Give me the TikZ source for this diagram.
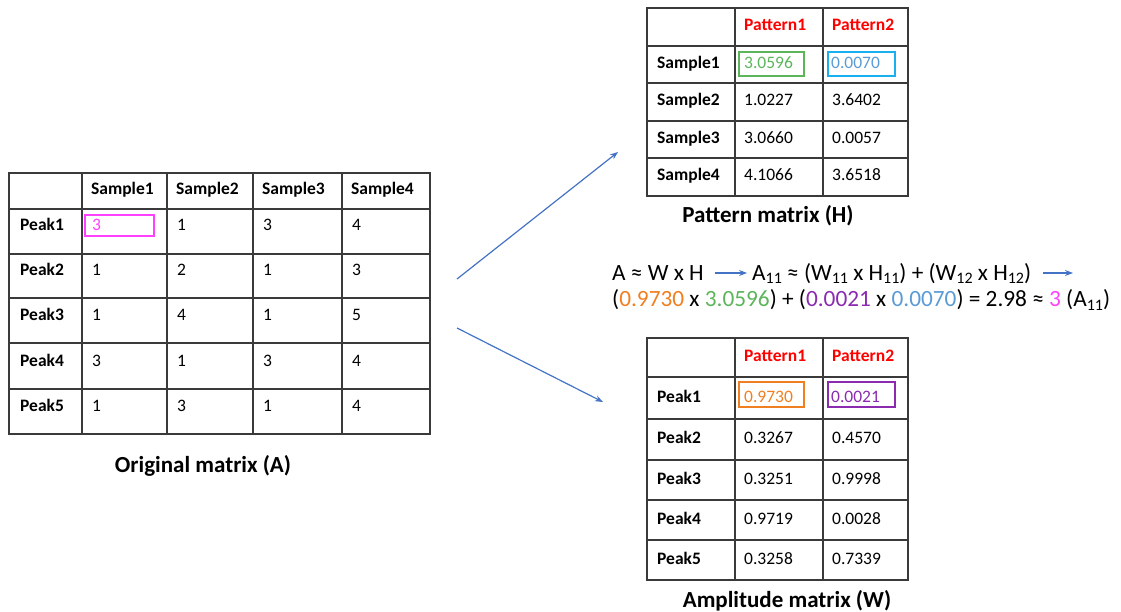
\documentclass[tikz,border=0pt]{standalone}
\usepackage{fontspec}
\setmainfont{Carlito}
\usetikzlibrary{arrows.meta}
\definecolor{arrowblue}{HTML}{4472C4}
\definecolor{gridc}{HTML}{3A3A3A}
\definecolor{pinkc}{HTML}{FF40FF}
\definecolor{greenc}{HTML}{5DB55B}
\definecolor{bluebox}{HTML}{1AB0F0}
\definecolor{bluetext}{HTML}{5B9BD5}
\definecolor{orangec}{HTML}{F07F22}
\definecolor{purplec}{HTML}{8A2BB0}
\definecolor{redc}{HTML}{FF0000}
\newcommand{\lsub}[1]{\raisebox{-0.35ex}{\fontsize{16}{16}\selectfont #1}}
\begin{document}
\begin{tikzpicture}[x=1pt,y=-1pt,
  grid/.style={draw=gridc,line width=1.4pt},
  hd/.style={anchor=base west,inner sep=0pt,font=\fontsize{17.5}{20}\selectfont\bfseries},
  val/.style={anchor=base west,inner sep=0pt,font=\fontsize{17.5}{20}\selectfont},
  ttl/.style={anchor=base,inner sep=0pt,font=\fontsize{23}{26}\selectfont\bfseries},
  eq/.style={anchor=base west,inner sep=0pt,font=\fontsize{23.3}{26}\selectfont},
  hlbox/.style={line width=1.2pt},
  arr/.style={draw=arrowblue,line width=1.2pt,-{Stealth[length=8pt,width=6pt]}}]
\useasboundingbox (0,0) rectangle (1121,612);
% ---------- Table A ----------
\foreach \x in {82,167,253,342} \draw[grid] (\x,173) -- (\x,434);
\foreach \y in {209,254,298,343,389} \draw[grid] (9,\y) -- (430,\y);
\draw[grid] (9,173) rectangle (430,434);
\foreach \c/\x in {1/91,2/176,3/262,4/351}
  \node[hd] (a-h-\c) at (\x,195) {Sample\c};
\foreach \r/\y/\va/\vb/\vc/\vd in {1/231/3/1/3/4,2/276/1/2/1/3,3/320/1/4/1/5,4/366/3/1/3/4,5/411/1/3/1/4}{
  \node[hd] (a-\r-0) at (20,\y) {Peak\r};
  \ifnum\r=1
    \node[val,text=pinkc] (a-\r-1) at (92,\y) {\va};
  \else
    \node[val] (a-\r-1) at (92,\y) {\va};
  \fi
  \node[val] (a-\r-2) at (177,\y) {\vb};
  \node[val] (a-\r-3) at (263,\y) {\vc};
  \node[val] (a-\r-4) at (352,\y) {\vd};
}
\draw[hlbox,draw=pinkc] (85,215) rectangle (154,236);
\node[ttl] (ta) at (203,472) {Original matrix (A)};
% ---------- Table H ----------
\foreach \x in {735,823} \draw[grid] (\x,8) -- (\x,196);
\foreach \y in {46,83,121,158} \draw[grid] (647,\y) -- (908,\y);
\draw[grid] (647,8) rectangle (908,196);
\node[hd,text=redc] (h-h-1) at (744,31) {Pattern1};
\node[hd,text=redc] (h-h-2) at (832,31) {Pattern2};
\foreach \r/\y/\va/\vb in {1/68.5/3.0596/0.0070,2/106/1.0227/3.6402,3/143.5/3.0660/0.0057,4/181/4.1066/3.6518}{
  \node[hd] (h-\r-0) at (657,\y) {Sample\r};
  \ifnum\r=1
    \node[val,text=greenc] (h-\r-1) at (744,\y) {\va};
    \node[val,text=bluetext] (h-\r-2) at (831,\y) {\vb};
  \else
    \node[val] (h-\r-1) at (744,\y) {\va};
    \node[val] (h-\r-2) at (832,\y) {\vb};
  \fi
}
\draw[hlbox,draw=greenc] (739,52) rectangle (804,76);
\draw[hlbox,draw=bluebox] (828,52) rectangle (895,76);
\node[ttl] (th) at (768,223) {Pattern matrix (H)};
% ---------- Table W ----------
\foreach \x in {735,823} \draw[grid] (\x,338) -- (\x,580);
\foreach \y in {377,419,460,500,540} \draw[grid] (647,\y) -- (908,\y);
\draw[grid] (647,338) rectangle (908,580);
\node[hd,text=redc] (w-h-1) at (744,361.5) {Pattern1};
\node[hd,text=redc] (w-h-2) at (832,361.5) {Pattern2};
\foreach \r/\y/\va/\vb in {1/402/0.9730/0.0021,2/443.5/0.3267/0.4570,3/484/0.3251/0.9998,4/524/0.9719/0.0028,5/564/0.3258/0.7339}{
  \node[hd] (w-\r-0) at (657,\y) {Peak\r};
  \ifnum\r=1
    \node[val,text=orangec] (w-\r-1) at (744,\y) {\va};
    \node[val,text=purplec] (w-\r-2) at (831,\y) {\vb};
  \else
    \node[val] (w-\r-1) at (744,\y) {\va};
    \node[val] (w-\r-2) at (832,\y) {\vb};
  \fi
}
\draw[hlbox,draw=orangec] (739,382) rectangle (804,407);
\draw[hlbox,draw=purplec] (828,382) rectangle (895,407);
\node[ttl] (tw) at (787,607) {Amplitude matrix (W)};
% ---------- Main arrows ----------
\coordinate (up-s) at (457,279);
\coordinate (up-e) at (618,152);
\coordinate (dn-s) at (457,328);
\coordinate (dn-e) at (603,402);
\draw[arr] (up-s) -- (up-e);
\draw[arr] (dn-s) -- (dn-e);
% ---------- Equation ----------
\node[eq] (eq1a) at (612,280) {A ≈ W x H};
\node[eq] (eq1b) at (752,280) {A\lsub{11} ≈ (W\lsub{11} x H\lsub{11}) + (W\lsub{12} x H\lsub{12})};
\coordinate (eqend) at (1073,273);
\draw[arr,shorten <=11pt,shorten >=5pt] (eq1a.east |- eqend) -- (eq1b.west |- eqend);
\draw[arr,shorten <=12pt] (eq1b.east |- eqend) -- (eqend);
\node[eq] (eq2) at (612,306.5) {(\textcolor{orangec}{0.9730} x \textcolor{greenc}{3.0596}) + (\textcolor{purplec}{0.0021} x \textcolor{bluetext}{0.0070}) = 2.98 ≈ \textcolor{pinkc}{3} (A\lsub{11})};
\end{tikzpicture}
\end{document}
